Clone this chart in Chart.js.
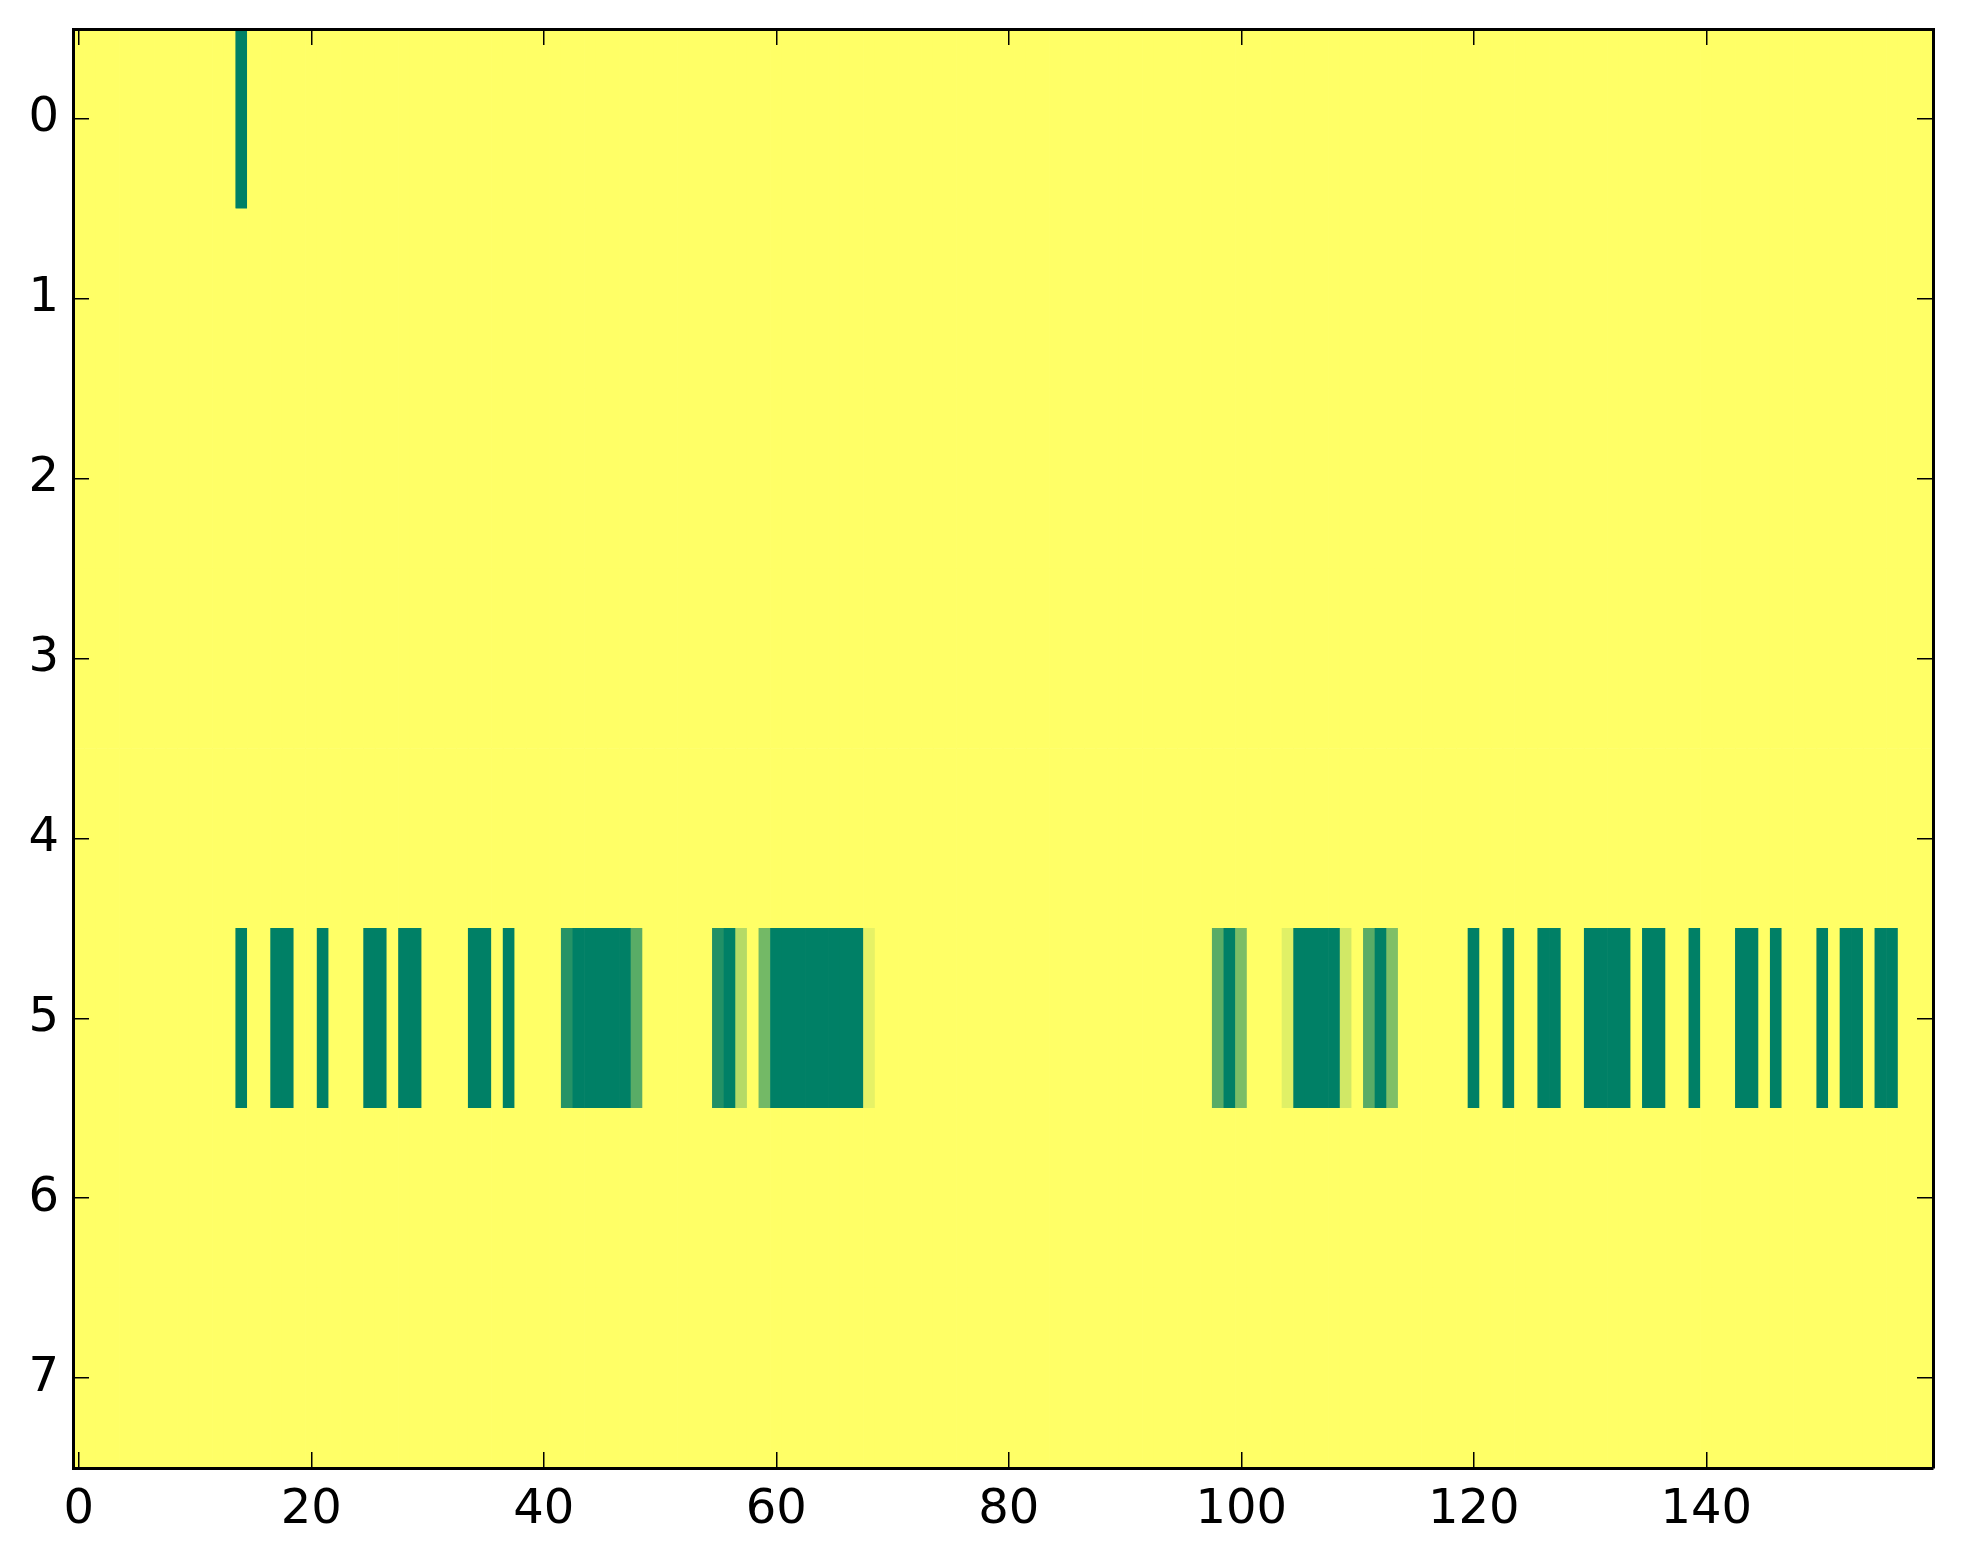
<!DOCTYPE html>
<html>
<head>
<meta charset="utf-8">
<script src="https://cdn.jsdelivr.net/npm/chart.js@4/dist/chart.umd.min.js"></script>
<style>
  html, body { margin: 0; padding: 0; background: #ffffff; }
  #wrap { width: 1963px; height: 1564px; }
</style>
</head>
<body>
<div id="wrap"><canvas id="c" width="1963" height="1564"></canvas></div>
<script>
// ---- data ----
const numRows = 8;
const numCols = 160;
const xTickValues = [0, 20, 40, 60, 80, 100, 120, 140];
const yTickValues = [0, 1, 2, 3, 4, 5, 6, 7];

// non-zero cells (all other cells are 0)
const cellRows = [
  0,
  5, 5, 5, 5, 5, 5, 5, 5, 5, 5, 5,
  5, 5, 5, 5, 5, 5, 5,
  5, 5, 5, 5, 5, 5, 5, 5, 5, 5, 5, 5, 5, 5,
  5, 5, 5, 5, 5, 5, 5, 5, 5, 5, 5, 5, 5,
  5, 5, 5, 5, 5, 5, 5, 5, 5, 5, 5, 5, 5, 5, 5, 5, 5, 5, 5, 5, 5, 5
];
const cellCols = [
  14,
  14, 17, 18, 21, 25, 26, 28, 29, 34, 35, 37,
  42, 43, 44, 45, 46, 47, 48,
  55, 56, 57, 59, 60, 61, 62, 63, 64, 65, 66, 67, 68,
  98, 99, 100, 104, 105, 106, 107, 108, 109, 111, 112, 113,
  120, 123, 126, 127, 130, 131, 132, 133, 135, 136, 139, 143, 144, 146, 150, 152, 153, 155, 156
];
const cellValues = [
  1,
  1, 1, 1, 1, 1, 1, 1, 1, 1, 1, 1,
  0.85, 1, 1, 1, 1, 1, 0.65,
  0.87, 1, 0.29, 0.55, 1, 1, 1, 1, 1, 1, 1, 1, 0.1,
  0.65, 1, 0.52, 0.12, 1, 1, 1, 1, 0.18, 0.65, 1, 0.5,
  1, 1, 1, 1, 1, 1, 1, 1, 1, 1, 1, 1, 1, 1, 1, 1, 1, 1, 1
];

// ---- colormap: matplotlib summer_r ----
function summerR(v) {
  const t = 1 - Math.max(0, Math.min(1, v));
  const r = Math.round(255 * t);
  const g = Math.round(255 * (0.5 + 0.5 * t));
  const b = Math.round(255 * 0.4);
  return `rgb(${r},${g},${b})`;
}

// build full grid from the named arrays
const grid = [];
for (let r = 0; r < numRows; r++) {
  grid.push(new Array(numCols).fill(0));
}
for (let i = 0; i < cellCols.length; i++) {
  grid[cellRows[i]][cellCols[i]] = cellValues[i];
}
const cellData = [];
const cellColors = [];
for (let r = 0; r < numRows; r++) {
  for (let c = 0; c < numCols; c++) {
    cellData.push({ x: c, y: [r - 0.5, r + 0.5] });
    cellColors.push(summerR(grid[r][c]));
  }
}

const FONT = { family: 'DejaVu Sans', size: 48, lineHeight: 1 };
const TICK_LEN = -16;

function tickSetter(values) {
  return (scale) => { scale.ticks = values.map(v => ({ value: v })); };
}
function fixH(h) {
  return (s) => { s.height = h; s.paddingLeft = 0; s.paddingRight = 0; s.paddingTop = 0; s.paddingBottom = 0; };
}
function fixW(w) {
  return (s) => { s.width = w; s.paddingLeft = 0; s.paddingRight = 0; s.paddingTop = 0; s.paddingBottom = 0; };
}

const gridOpts = {
  display: true,
  drawOnChartArea: false,
  drawTicks: true,
  tickLength: TICK_LEN,
  color: '#000000',
  lineWidth: 1.5,
  offset: false,
  z: 1
};
const borderOpts = { display: true, color: '#000000', width: 3, z: 1 };

new Chart(document.getElementById('c'), {
  type: 'bar',
  data: {
    datasets: [{
      data: cellData,
      backgroundColor: cellColors,
      borderWidth: 0,
      borderSkipped: false,
      barPercentage: 1,
      categoryPercentage: 1,
      grouped: false,
      xAxisID: 'x',
      yAxisID: 'y'
    }]
  },
  options: {
    responsive: false,
    devicePixelRatio: 1,
    animation: false,
    events: [],
    layout: { padding: { top: 29, right: 30, left: 0, bottom: 0 } },
    plugins: { legend: { display: false }, tooltip: { enabled: false } },
    scales: {
      x: {
        type: 'linear',
        position: 'bottom',
        offset: false,
        min: -0.5,
        max: numCols - 0.5,
        afterBuildTicks: tickSetter(xTickValues),
        afterFit: fixH(96),
        ticks: { color: '#000000', font: FONT, padding: 35, maxRotation: 0, autoSkip: false,
                 callback: (v) => String(v) },
        grid: gridOpts,
        border: borderOpts
      },
      x2: {
        type: 'linear',
        position: 'top',
        offset: false,
        min: -0.5,
        max: numCols - 0.5,
        afterBuildTicks: tickSetter(xTickValues),
        afterFit: fixH(0),
        ticks: { display: false },
        grid: gridOpts,
        border: borderOpts
      },
      y: {
        type: 'linear',
        position: 'left',
        reverse: true,
        offset: false,
        min: -0.5,
        max: numRows - 0.5,
        afterBuildTicks: tickSetter(yTickValues),
        afterFit: fixW(73),
        ticks: { color: '#000000', font: FONT, padding: 30, autoSkip: false,
                 callback: (v) => String(v) },
        grid: gridOpts,
        border: borderOpts
      },
      y2: {
        type: 'linear',
        position: 'right',
        reverse: true,
        offset: false,
        min: -0.5,
        max: numRows - 0.5,
        afterBuildTicks: tickSetter(yTickValues),
        afterFit: fixW(0),
        ticks: { display: false },
        grid: gridOpts,
        border: borderOpts
      }
    }
  }
});
</script>
</body>
</html>
